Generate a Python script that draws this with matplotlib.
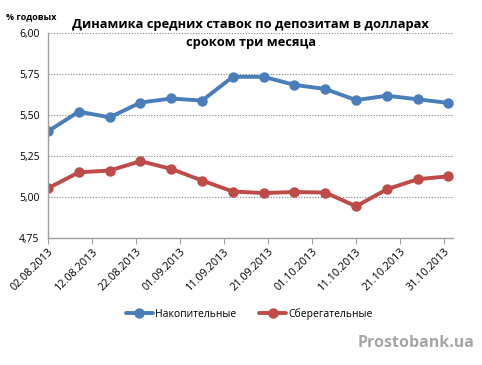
import datetime as dt
import matplotlib
matplotlib.use("Agg")
import matplotlib.pyplot as plt
import matplotlib.dates as mdates
from matplotlib.ticker import FuncFormatter, MultipleLocator

plt.rcParams['font.family'] = ['Open Sans', 'DejaVu Sans']

# weekly observations, 02.08.2013 .. 01.11.2013
start = dt.date(2013, 8, 2)
dates = [start + dt.timedelta(days=7 * i) for i in range(14)]
nakop = [5.40, 5.52, 5.485, 5.575, 5.60, 5.587, 5.732, 5.732,
         5.683, 5.658, 5.59, 5.617, 5.595, 5.573]
sberg = [5.053, 5.15, 5.161, 5.218, 5.171, 5.10, 5.033, 5.024,
         5.03, 5.027, 4.943, 5.047, 5.108, 5.126]
tick_dates = [start + dt.timedelta(days=10 * i) for i in range(10)]

blue = '#4A7EBB'
red = '#BE4B48'

fig = plt.figure(figsize=(4.82, 3.65), dpi=100)
ax = fig.add_axes([0.0996, 0.348, 0.840, 0.562])

ax.plot(dates, nakop, color=blue, lw=2.8, marker='o', ms=6.5,
        label='Накопительные', solid_capstyle='round')
ax.plot(dates, sberg, color=red, lw=2.8, marker='o', ms=6.5,
        label='Сберегательные', solid_capstyle='round')

ax.set_ylim(4.75, 6.0)
ax.yaxis.set_major_locator(MultipleLocator(0.25))
ax.yaxis.set_major_formatter(FuncFormatter(lambda v, p: f'{v:.2f}'.replace('.', ',')))
ax.set_xlim(mdates.date2num(start), mdates.date2num(dt.date(2013, 11, 2)))
ax.set_xticks(mdates.date2num(tick_dates))
ax.set_xticklabels([d.strftime('%d.%m.%Y') for d in tick_dates],
                   rotation=45, ha='right', rotation_mode='anchor')

ax.grid(axis='y', color='#808080', linestyle=(0, (1, 1.5)), linewidth=0.8)
ax.set_axisbelow(True)
for s in ['top', 'right']:
    ax.spines[s].set_visible(False)
for s in ['left', 'bottom']:
    ax.spines[s].set_color('#A0A0A0')
    ax.spines[s].set_linewidth(1)
ax.tick_params(axis='y', length=0, labelsize=7.5, pad=6)
ax.tick_params(axis='x', length=4, direction='out', color='#A0A0A0',
               labelsize=7.8, pad=2)

fig.text(0.52, 0.952, 'Динамика средних ставок по депозитам в долларах\nсроком три месяца',
         ha='center', va='top', fontsize=9.3, fontweight='bold',
         linespacing=1.5)
fig.text(0.012, 0.955, '% годовых', ha='left', va='center', fontsize=6.5,
         fontweight='bold')

fig.legend(loc='center', bbox_to_anchor=(0.517, 0.14), ncol=2, frameon=False,
           fontsize=7.5, handlelength=2.6, columnspacing=2.2, handletextpad=0.2)

fig.text(0.985, 0.06, 'Prostobank.ua', ha='right', va='center', fontsize=11.5,
         fontweight='bold', color='#A6A6A6')

fig.savefig('out.png', dpi=100)
